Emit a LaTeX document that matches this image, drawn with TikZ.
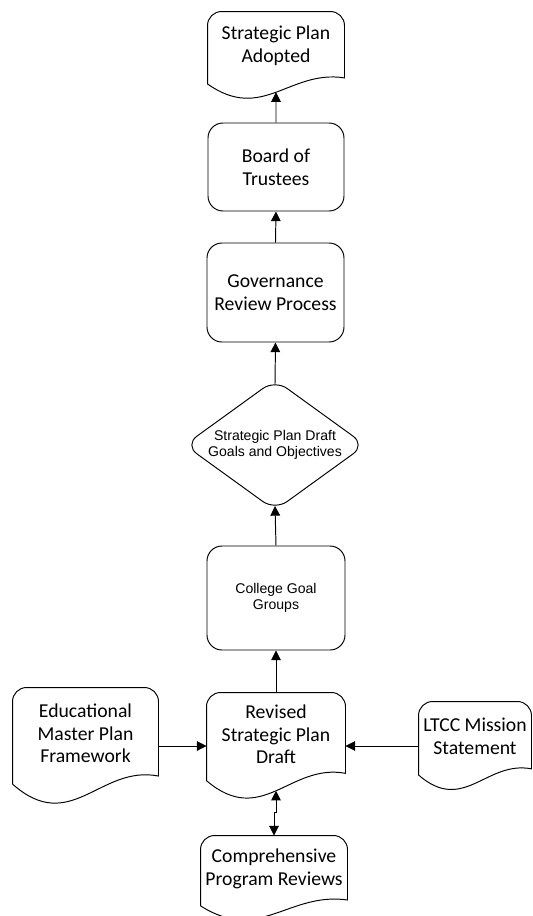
\documentclass[tikz,border=0pt]{standalone}
\usepackage{fontspec}
\setmainfont{Carlito}
\newfontfamily\arialfont{Liberation Sans}
\usetikzlibrary{arrows.meta,shapes.geometric,calc}

% outline of a document shape round node #1, wave below it
\newcommand{\DocShape}[1]{%
  \draw let \p1=(#1.south west), \p2=(#1.north east),
    \n1={1.25*(\y2-\y1)}, \n2={\x2-\x1}, \n3={\y2-\n1} in
    (\x1,\n3+0.16*\n1) -- (\x1,\y2-0.28cm) arc[start angle=180,end angle=90,radius=0.28cm]
    -- (\x2-0.28cm,\y2) arc[start angle=90,end angle=0,radius=0.28cm]
    -- (\x2,\n3+0.23*\n1)
    .. controls (\x2-0.4*\n2,\n3+0.33*\n1) and (\x1+0.4*\n2,\n3-0.29*\n1)
    .. coordinate[pos=.5] (#1-w) (\x1,\n3+0.16*\n1) -- cycle;}

\begin{document}
\begin{tikzpicture}[line width=0.55pt,
    font=\fontsize{11.2}{12.9}\selectfont,
    >={Triangle[length=5.5pt,width=5.5pt]},
    box/.style={draw, rounded corners=0.3cm, align=center, inner sep=0pt},
    doc/.style={align=center, inner sep=0pt},
    small/.style={font=\arialfont\fontsize{8}{9.5}\selectfont},
    arr/.style={->}]
  \useasboundingbox (0,0) rectangle (10.64,-18.32);

  \node[doc, minimum width=2.72cm, minimum height=1.36cm] (adopted) at (5.52,-0.92) {Strategic Plan\\Adopted};
  \node[box, minimum width=2.72cm, minimum height=1.76cm] (board) at (5.52,-3.34) {Board of\\Trustees};
  \node[box, minimum width=2.74cm, minimum height=1.98cm] (review) at (5.51,-5.85) {Governance\\Review Process};
  \node[draw, diamond, small, align=center, rounded corners=0.3cm, inner sep=0pt, shape aspect=1.4,
        minimum width=3.62cm, minimum height=2.62cm] (draft) at (5.5,-8.9) {Strategic Plan Draft\\Goals and Objectives};
  \node[box, small, minimum width=2.76cm, minimum height=2.08cm] (goals) at (5.52,-11.96) {College Goal\\Groups};
  \node[doc, minimum width=2.76cm, minimum height=1.66cm] (revised) at (5.52,-14.69) {Revised\\Strategic Plan\\Draft};
  \node[doc, minimum width=2.9cm, minimum height=1.82cm] (edu) at (1.71,-14.67) {Educational\\Master Plan\\Framework};
  \node[doc, minimum width=2.24cm, minimum height=1.38cm] (ltcc) at (9.5,-14.73) {LTCC Mission\\Statement};
  \node[doc, minimum width=2.92cm, minimum height=1.32cm] (comp) at (5.48,-17.38) {Comprehensive\\Program Reviews};

  \foreach \shp in {adopted,revised,edu,ltcc,comp} {\DocShape{\shp}}

  \coordinate (in-l) at ([yshift=-0.23cm]revised.west);
  \coordinate (in-r) at ([yshift=-0.23cm]revised.east);

  \draw[arr] (board.north) -- (adopted-w);
  \draw[arr] (review.north) -- (board.south);
  \draw[arr] ([yshift=-0.1cm]draft.north) -- (review.south);
  \draw[arr] (goals.north) -- ([yshift=0.1cm]draft.south);
  \draw[arr] (revised.north) -- (goals.south);
  \draw[arr] (edu.east |- in-l) -- (in-l);
  \draw[arr] (ltcc.west |- in-r) -- (in-r);
  \draw[<->] (comp.north) -- ++(0,0.46) -| (revised-w);
\end{tikzpicture}
\end{document}
